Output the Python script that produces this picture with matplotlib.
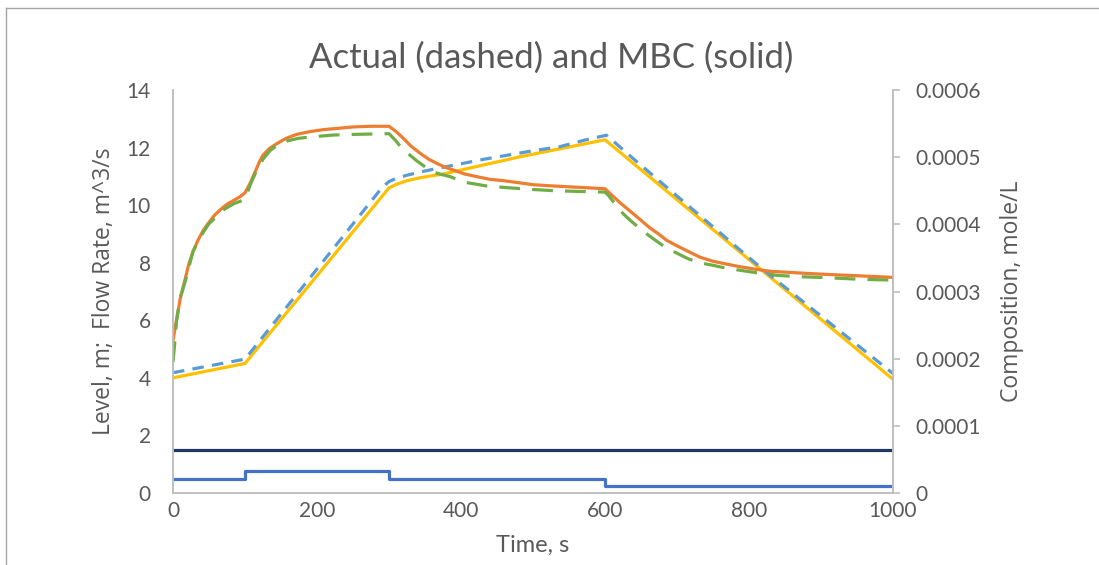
import matplotlib.pyplot as plt
from matplotlib.lines import Line2D

#====================================================================================================
# data

# composition, MBC (solid orange), mole/L
t_comp_mbc = [0, 3, 10, 17, 22, 28, 35, 42, 50, 58, 66, 75, 85, 93, 100,
              107, 114, 120, 125, 134, 144, 157, 172, 190, 209, 230, 250, 275, 300,
              310, 320, 331, 343, 355, 366, 378, 389, 405, 422, 440, 459, 480, 500, 530, 565, 600,
              610, 620, 630, 639, 650, 662, 674, 686, 700, 715, 732, 750, 768, 787, 810, 830, 847,
              880, 917, 960, 1000]
comp_mbc = [0.000227, 0.000246, 0.000289, 0.000319, 0.000341, 0.000360, 0.000377, 0.000391, 0.000403,
            0.000414, 0.000422, 0.000430, 0.000436, 0.000441, 0.000447,
            0.000461, 0.000478, 0.000493, 0.000503, 0.000513, 0.000520, 0.000528, 0.000534, 0.000538,
            0.000541, 0.000543, 0.000545, 0.000546, 0.000546,
            0.000538, 0.000528, 0.000516, 0.000506, 0.000497, 0.000491, 0.000485, 0.000481, 0.000475,
            0.000471, 0.000467, 0.000465, 0.000462, 0.000459, 0.000457, 0.000455, 0.000453,
            0.000443, 0.000433, 0.000424, 0.000416, 0.000406, 0.000395, 0.000386, 0.000376, 0.000368,
            0.000360, 0.000351, 0.000345, 0.000341, 0.000337, 0.000333, 0.000330, 0.000329,
            0.000327, 0.000325, 0.000323, 0.000321]

# composition, actual (dashed green), mole/L
t_comp_act = [0, 2, 5, 10, 17, 22, 28, 35, 42, 50, 56, 64, 72, 85, 95, 100,
              107, 116, 125, 135, 146, 158, 174, 190, 223, 255, 300,
              309, 318, 328, 338, 347, 357, 370, 385, 403, 420, 436, 459, 498, 530, 563, 600,
              604, 615, 625, 635, 646, 660, 673, 686, 700, 715, 730, 750, 767, 785, 810, 840, 870,
              899, 958, 1000]
comp_act = [0.000195, 0.000218, 0.000257, 0.000291, 0.000315, 0.000336, 0.000360, 0.000375, 0.000388,
            0.000401, 0.000407, 0.000416, 0.000423, 0.000431, 0.000435, 0.000437,
            0.000458, 0.000480, 0.000497, 0.000510, 0.000519, 0.000524, 0.000528, 0.000530, 0.000533,
            0.000534, 0.000535,
            0.000525, 0.000513, 0.000504, 0.000495, 0.000488, 0.000480, 0.000475, 0.000471, 0.000463,
            0.000460, 0.000457, 0.000455, 0.000452, 0.000450, 0.000449, 0.000448,
            0.000444, 0.000429, 0.000416, 0.000406, 0.000396, 0.000384, 0.000374, 0.000364, 0.000357,
            0.000349, 0.000343, 0.000339, 0.000335, 0.000332, 0.000328, 0.000324, 0.000322,
            0.000321, 0.000318, 0.000317]

# level, MBC (solid yellow), m
t_level_mbc = [0, 100, 300, 310, 325, 345, 375, 482, 600, 1000]
level_mbc   = [4.0, 4.5, 10.6, 10.72, 10.85, 10.96, 11.08, 11.68, 12.27, 3.95]

# level, actual (dashed blue), m
t_level_act = [0, 100, 290, 300, 312, 325, 345, 366, 431, 498, 537, 572, 602, 640, 820, 1000]
level_act   = [4.18, 4.65, 10.6, 10.82, 10.95, 11.04, 11.16, 11.27, 11.59, 11.88, 12.03, 12.26, 12.43,
               11.6, 7.75, 4.15]

# flow rates, m^3/s
t_flow_const = [0, 1000]
flow_const   = [1.5, 1.5]
t_flow_step  = [0, 100, 300, 600, 1000]
flow_step    = [0.5, 0.75, 0.5, 0.25, 0.25]

x_ticks      = [0, 200, 400, 600, 800, 1000]
left_ticks   = [0, 2, 4, 6, 8, 10, 12, 14]
right_ticks  = [0, 0.0001, 0.0002, 0.0003, 0.0004, 0.0005, 0.0006]
right_labels = ["0", "0.0001", "0.0002", "0.0003", "0.0004", "0.0005", "0.0006"]

#====================================================================================================

def main():

    textGray  = "#595959"
    spineGray = "#BFBFBF"

    fig = plt.figure(figsize = (10.99, 5.65), dpi = 100)
    ax  = fig.add_axes([173 / 1099, 1 - 493 / 565, 720 / 1099, 403 / 565])
    ax2 = ax.twinx()

    # level and flow lines on the left axis
    ax.plot(t_level_mbc, level_mbc, c = "#FFC000", lw = 2.3)
    ax.plot(t_level_act, level_act, c = "#5B9BD5", lw = 2.3, dashes = (3.6, 2.6))
    ax.plot(t_flow_const, flow_const, c = "#203864", lw = 2.3)
    ax.plot(t_flow_step, flow_step, c = "#4472C4", lw = 2.3, drawstyle = "steps-post")

    # composition on the right axis
    ax2.plot(t_comp_mbc, comp_mbc, c = "#ED7D31", lw = 2.3)
    ax2.plot(t_comp_act, comp_act, c = "#70AD47", lw = 2.3, dashes = (6.5, 3.8))

    ax.set_xlim(0, 1000)
    ax.set_ylim(0, 14)
    ax2.set_ylim(0, 0.0006)

    ax.set_xticks(x_ticks)
    ax.set_yticks(left_ticks)
    ax2.set_yticks(right_ticks)
    ax2.set_yticklabels(right_labels)

    for a in (ax, ax2):
        a.spines["top"].set_visible(False)
        for s in ("left", "right", "bottom"):
            a.spines[s].set_color(spineGray)
            a.spines[s].set_linewidth(1.2)

    ax.tick_params(axis = "y", length = 0, pad = 16, labelsize = 15, labelcolor = textGray)
    ax.tick_params(axis = "x", length = 0, pad = 6, labelsize = 15, labelcolor = textGray)
    ax2.tick_params(axis = "y", length = 5, width = 1.2, color = spineGray, pad = 11,
                    labelsize = 15, labelcolor = textGray)
    for lbl in ax.get_xticklabels() + ax.get_yticklabels() + ax2.get_yticklabels():
        lbl.set_family("Lato")

    ax.set_xlabel("Time, s", fontsize = 17, color = textGray, family = "Lato", va = "center")
    ax.xaxis.set_label_coords(0.5, -(545 - 493) / 403)
    ax.set_ylabel("Level, m;  Flow Rate, m^3/s", fontsize = 16.5, color = textGray,
                  family = "Open Sans", va = "center", ha = "center")
    ax.yaxis.set_label_coords((104 - 173) / 720, 0.5)
    ax2.set_ylabel("Composition, mole/L", fontsize = 16.5, color = textGray,
                   family = "Open Sans", va = "center", ha = "center")
    ax2.yaxis.set_label_coords((1012 - 173) / 720, 0.5)

    fig.text(551 / 1099, 1 - 58 / 565, "Actual (dashed) and MBC (solid)", fontsize = 25,
             color = textGray, family = "Lato", ha = "center", va = "center")

    # chart frame (left and top edges visible)
    fig.add_artist(Line2D([6 / 1099, 6 / 1099], [0, 1 - 8 / 565], transform = fig.transFigure,
                          c = "#A6A6A6", lw = 1))
    fig.add_artist(Line2D([6 / 1099, 1], [1 - 8 / 565, 1 - 8 / 565], transform = fig.transFigure,
                          c = "#A6A6A6", lw = 1))

    plt.savefig("out.png")

#====================================================================================================

if __name__ == "__main__":

    main()
